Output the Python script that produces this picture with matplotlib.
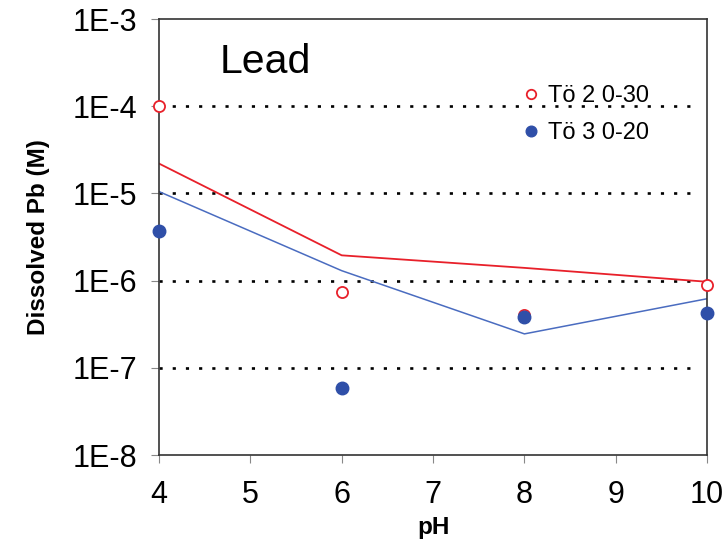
"""
Dissolved Pb vs pH for two soil samples, measured points and model lines.
Saves out.png.
"""

import matplotlib.pyplot as plt

ph = [4, 6, 8, 10]

# measured values (markers)
to2_meas = [1.0e-4, 7.5e-7, 4.0e-7, 9.0e-7]
to3_meas = [3.7e-6, 5.9e-8, 3.8e-7, 4.2e-7]

# modelled values (lines)
to2_model = [2.2e-5, 1.95e-6, 1.4e-6, 9.7e-7]
to3_model = [1.05e-5, 1.3e-6, 2.45e-7, 6.2e-7]

grid_levels = [1e-4, 1e-5, 1e-6, 1e-7]
ytick_vals = [1e-8, 1e-7, 1e-6, 1e-5, 1e-4, 1e-3]
ytick_labels = ["1E-8", "1E-7", "1E-6", "1E-5", "1E-4", "1E-3"]

RED = "#e8202a"
BLUE_PT = "#2f4fa8"
BLUE_LN = "#4a6cc0"

plt.rcParams["font.family"] = ["Liberation Sans", "DejaVu Sans"]

fig = plt.figure(figsize=(7.26, 5.43), dpi=100)
ax = fig.add_axes([0.219, 0.162, 0.755, 0.803])

ax.set_yscale("log")
ax.set_xlim(4, 10)
ax.set_ylim(1e-8, 1e-3)

# dotted gridlines
for g in grid_levels:
    ax.axhline(g, xmin=0, xmax=0.98, color="black", lw=1.9,
               linestyle=(0, (1.2, 3.8)), zorder=1)

# model lines
ax.plot(ph, to2_model, color=RED, lw=1.3, zorder=2)
ax.plot(ph, to3_model, color=BLUE_LN, lw=1.1, zorder=2)

# measured points
ax.plot(ph, to2_meas, "o", ms=8, mfc="white", mec=RED, mew=1.3,
        linestyle="none", clip_on=False, zorder=3, label="Tö 2 0-30")
ax.plot(ph, to3_meas, "o", ms=9, color=BLUE_PT,
        linestyle="none", clip_on=False, zorder=4, label="Tö 3 0-20")

ax.set_yticks(ytick_vals)
ax.set_yticklabels(ytick_labels)
ax.minorticks_off()
ax.set_xticks(range(4, 11))
ax.tick_params(axis="both", which="major", direction="out", length=6,
               color="#888888", labelsize=22)
ax.tick_params(axis="x", pad=12)
ax.tick_params(axis="y", pad=10)

for s in ax.spines.values():
    s.set_color("#333333")
    s.set_linewidth(1.2)

ax.set_xlabel("pH", fontsize=17.5, fontweight="bold", labelpad=4)
ax.set_ylabel("Dissolved Pb (M)", fontsize=17.5, fontweight="bold",
              labelpad=16)

ax.text(0.111, 0.876, "Lead", transform=ax.transAxes, fontsize=29.5,
        va="baseline")

ax.legend(loc="upper left", bbox_to_anchor=(0.657, 0.849), frameon=False,
          fontsize=17, handletextpad=0.22, labelspacing=0.66,
          handlelength=1.0, borderaxespad=0, borderpad=0, markerscale=0.85)

fig.savefig("out.png", dpi=100)
plt.close(fig)
